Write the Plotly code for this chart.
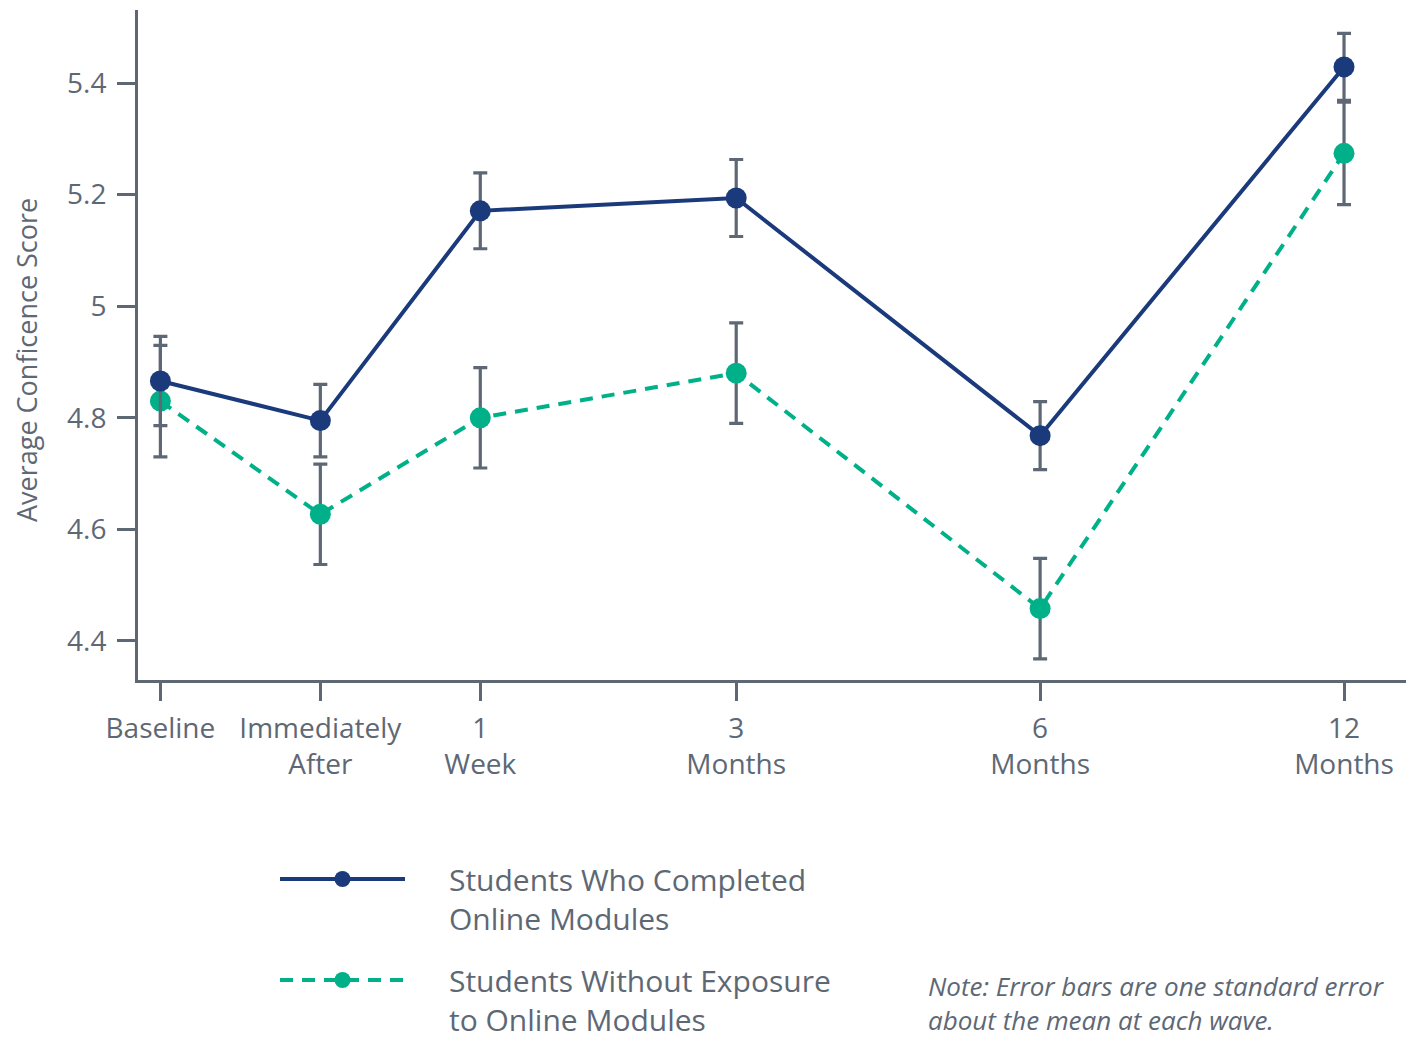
import plotly.graph_objects as go

# Data
wave_labels = ["Baseline", "Immediately<br>After", "1<br>Week", "3<br>Months", "6<br>Months", "12<br>Months"]
wave_pos = [0, 1, 2, 3.6, 5.5, 7.4]

completed_mean = [4.866, 4.795, 5.171, 5.194, 4.768, 5.429]
completed_se = [0.080, 0.065, 0.068, 0.069, 0.061, 0.060]

without_mean = [4.830, 4.627, 4.800, 4.880, 4.458, 5.274]
without_se = [0.100, 0.090, 0.090, 0.090, 0.090, 0.092]

BLUE = "#1b3a7b"
GREEN = "#00b088"
GRAY = "#5e6875"
FONT = "Open Sans"
PAD = "\u00a0" * 5

# page body has an 8px margin; figure is sized to fit the window
W, H = 1406, 1032
L, T, R, B = 130, 2, 1400, 672  # plot area in figure pixels
PW, PH = R - L, B - T


def px_x(x):
    return (x - L) / PW


def px_y(y):
    return (B - y) / PH


fig = go.Figure()

fig.add_trace(go.Scatter(
    x=wave_pos, y=without_mean, mode="lines+markers",
    name=PAD + "Students Without Exposure<br>" + PAD + "to Online Modules",
    line=dict(color=GREEN, width=4, dash="13px,9px"),
    marker=dict(color=GREEN, size=21),
    error_y=dict(type="data", array=without_se, color=GRAY, thickness=3.2, width=7),
    legendrank=2, legendgroup="g2",
))
fig.add_trace(go.Scatter(
    x=wave_pos, y=completed_mean, mode="lines+markers",
    name=PAD + "Students Who Completed<br>" + PAD + "Online Modules",
    line=dict(color=BLUE, width=4),
    marker=dict(color=BLUE, size=21),
    error_y=dict(type="data", array=completed_se, color=GRAY, thickness=3.2, width=7),
    legendrank=1, legendgroup="g1",
))

fig.update_layout(
    width=W, height=H,
    margin=dict(l=L, r=W - R, t=T, b=H - B, autoexpand=False),
    paper_bgcolor="white", plot_bgcolor="white",
    font=dict(family=FONT, color=GRAY, size=28),
    showlegend=True,
    legend=dict(
        x=px_x(267), y=px_y(845), xanchor="left", yanchor="top",
        orientation="v", itemwidth=125, tracegroupgap=20, valign="top",
        traceorder="grouped",
        font=dict(family=FONT, size=30, color=GRAY),
        bgcolor="rgba(0,0,0,0)",
    ),
    xaxis=dict(
        range=[-0.14, 7.8], automargin=False,
        tickmode="array", tickvals=wave_pos, ticktext=wave_labels,
        showgrid=False, zeroline=False,
        showline=True, linecolor=GRAY, linewidth=3,
        ticks="outside", ticklen=18, tickwidth=3, tickcolor=GRAY,
        ticklabelstandoff=3,
        tickfont=dict(family=FONT, size=28, color=GRAY),
    ),
    yaxis=dict(
        range=[4.33, 5.531], automargin=False,
        tickvals=[4.4, 4.6, 4.8, 5.0, 5.2, 5.4],
        ticktext=["4.4", "4.6", "4.8", "5", "5.2", "5.4"],
        showgrid=False, zeroline=False,
        showline=True, linecolor=GRAY, linewidth=3,
        ticks="outside", ticklen=18, tickwidth=3, tickcolor=GRAY,
        ticklabelstandoff=5,
        tickfont=dict(family=FONT, size=28, color=GRAY),
    ),
)

# y-axis title
fig.add_annotation(
    xref="paper", yref="paper",
    x=px_x(19), y=px_y(352),
    xanchor="center", yanchor="middle", showarrow=False, textangle=-90,
    text="Average Conficence Score",
    font=dict(family=FONT, size=27, color=GRAY),
)

fig.add_annotation(
    xref="paper", yref="paper",
    x=px_x(918), y=px_y(995),
    xanchor="left", yanchor="middle", align="left", showarrow=False,
    text="<i>Note: Error bars are one standard error<br>about the mean at each wave.</i>",
    font=dict(family=FONT, size=26, color=GRAY),
)

fig.write_html("out.html")
